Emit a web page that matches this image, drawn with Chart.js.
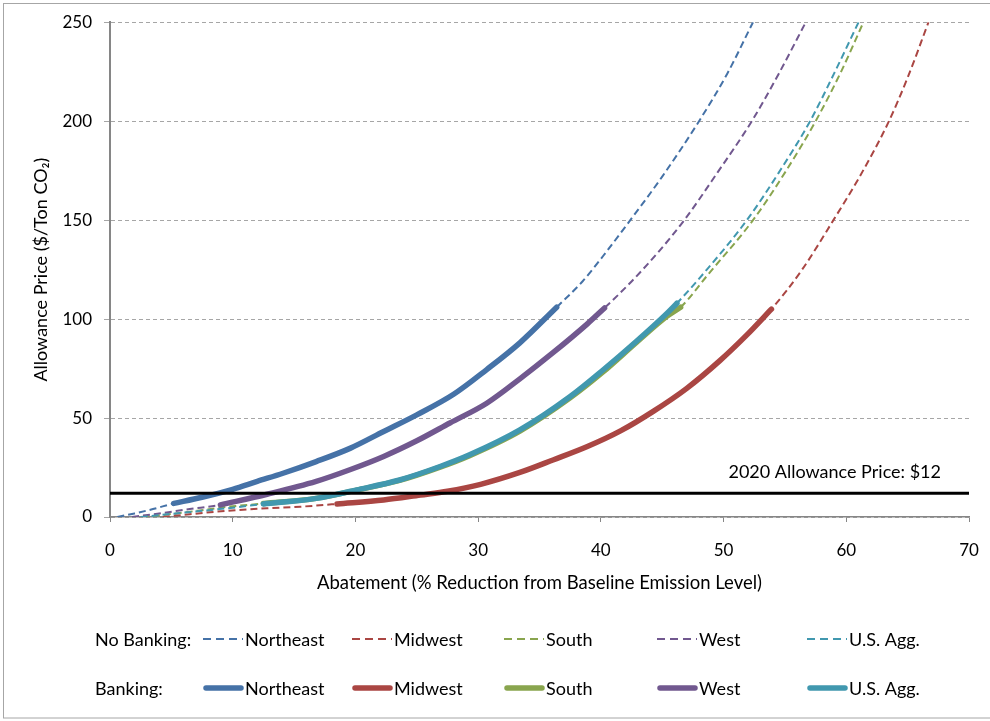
<!DOCTYPE html>
<html><head><meta charset="utf-8">
<script src="https://cdn.jsdelivr.net/npm/chart.js@4/dist/chart.umd.min.js"></script>
<style>html,body{margin:0;padding:0;background:#fff;}#wrap{position:relative;width:990px;height:721px;}</style>
</head><body><div id="wrap"><canvas id="c" width="990" height="721"></canvas></div>
<script>
// ---- data ----
const regions = ['Northeast', 'Midwest', 'South', 'West', 'U.S. Agg.'];
const regionColors = ['#4572A7', '#AA4643', '#89A54E', '#71588F', '#4198AF'];
const rowLabels = ['No Banking:', 'Banking:'];
const xTitle = 'Abatement (% Reduction from Baseline Emission Level)';
const yTitle = 'Allowance Price ($/Ton CO\u2082)';
const allowancePrice = 12;
const allowanceLabel = '2020 Allowance Price: $12';

const neX = [0.6, 2.0, 3.5, 5.2, 7.5, 10.0, 12.0, 14.1, 16.8, 19.6, 22.3, 25.0, 28.0, 30.7, 33.4, 36.4, 38.5, 40.2, 42.4, 45.0, 48.0, 50.3, 52.4];
const neY = [0, 1.8, 4.0, 6.9, 10.0, 14.0, 18.0, 22.1, 28.0, 34.8, 43.2, 51.6, 62.0, 74.5, 88.0, 106.0, 119, 132, 150, 172, 200, 224, 250];

const mwX = [4.3, 6.5, 8.7, 12.8, 15.5, 18.5, 22.3, 25.3, 27.5, 30.2, 33.4, 36.1, 38.9, 41.6, 44.3, 47.0, 49.7, 51.9, 53.9, 56.4, 58.95, 61.0, 63.4, 65.0, 66.7];
const mwY = [0, 1.4, 2.7, 4.4, 5.2, 6.6, 8.6, 11.1, 13.0, 16.5, 22.5, 28.8, 35.6, 43.5, 53.5, 65.0, 79.0, 92.0, 105.0, 125, 150, 171, 199, 222, 250];

const soX = [2.6, 4.3, 7.3, 9.2, 12.5, 16.8, 20.1, 23.6, 26.9, 29.3, 33.4, 37.5, 40.2, 42.9, 45.4, 46.5, 48.8, 52.4, 55.0, 57.5, 59.5, 61.4];
const soY = [0, 1.0, 3.3, 4.9, 6.8, 9.4, 13.6, 18.5, 25.2, 31.0, 43.4, 60.2, 73.4, 88.2, 101.5, 106.0, 123, 150, 174, 200, 224, 250];

const weX = [1.8, 4.0, 6.5, 9.0, 12.8, 16.8, 19.6, 22.3, 25.0, 27.7, 30.7, 33.4, 36.1, 38.9, 40.3, 42.5, 44.7, 46.8, 49.5, 52.3, 54.5, 56.7];
const weY = [0, 1.8, 4.0, 6.1, 11.5, 18.0, 24.0, 30.6, 38.5, 47.5, 57.5, 69.8, 83.0, 97.6, 105.6, 119, 134, 150, 174, 200, 224, 250];

const usX = [2.5, 4.1, 7.3, 10.3, 12.5, 16.8, 20.1, 23.6, 26.9, 29.3, 33.4, 37.5, 40.2, 42.9, 45.4, 46.2, 48.5, 51.9, 54.5, 57.05, 59.0, 61.0];
const usY = [0, 1.0, 3.0, 4.9, 6.6, 9.4, 13.7, 18.7, 25.5, 31.4, 44.0, 60.9, 74.4, 88.8, 103.0, 108.0, 124, 150, 174, 200, 224, 250];

const bankStart = [5.2, 18.5, 12.5, 9.0, 12.5];
const bankEnd = [36.4, 53.9, 46.5, 40.3, 46.2];

// ---- build ----
const curvesX = [neX, mwX, soX, weX, usX];
const curvesY = [neY, mwY, soY, weY, usY];
const pts = (xs, ys) => xs.map((x, i) => ({x: x, y: ys[i]}));
const dashOrder = [5, 5, 6, 5, 4];
const solidOrder = [2, 2, 3, 2, 1];
const datasets = [];
datasets.push({label: 'allowance', data: [{x: 0, y: allowancePrice}, {x: 70, y: allowancePrice}], borderColor: '#000', borderWidth: 3, order: 0, cubicInterpolationMode: 'default', tension: 0});
regions.forEach((r, i) => {
  const all = pts(curvesX[i], curvesY[i]);
  datasets.push({label: 'No Banking ' + r, data: all, borderColor: regionColors[i], borderWidth: 2, borderDash: [7, 4], order: dashOrder[i]});
  datasets.push({label: 'Banking ' + r, data: all.filter(p => p.x >= bankStart[i] && p.x <= bankEnd[i]), borderColor: regionColors[i], borderWidth: 5.5, borderCapStyle: 'round', borderJoinStyle: 'round', order: solidOrder[i]});
});

const decor = {
  id: 'decor',
  beforeDraw(chart) {
    const ctx = chart.ctx;
    ctx.save();
    ctx.strokeStyle = '#a6a6a6'; ctx.lineWidth = 1;
    ctx.strokeRect(3.5, 3.5, 990, 714.5);
    ctx.restore();
  },
  afterDraw(chart) {
    const ctx = chart.ctx;
    const ys = chart.scales.y, ca = chart.chartArea;
    ctx.save();
    ctx.fillStyle = '#000';
    ctx.font = '18px Lato';
    ctx.textAlign = 'right'; ctx.textBaseline = 'alphabetic';
    ctx.fillText(allowanceLabel, ca.right - 28, ys.getPixelForValue(allowancePrice) - 15);
    // legend
    const rowY = [639, 688];
    const sampleX = [203, 352, 504, 657, 807];
    rowLabels.forEach((lab, r) => {
      ctx.textAlign = 'left'; ctx.textBaseline = 'alphabetic';
      ctx.fillStyle = '#000';
      ctx.fillText(lab, 95, rowY[r] + 7);
      regions.forEach((name, i) => {
        ctx.beginPath();
        ctx.strokeStyle = regionColors[i];
        if (r === 0) { ctx.lineWidth = 2; ctx.setLineDash([8, 5]); ctx.lineCap = 'butt'; ctx.moveTo(sampleX[i], rowY[r]); ctx.lineTo(sampleX[i] + 40, rowY[r]); }
        else { ctx.lineWidth = 5.5; ctx.setLineDash([]); ctx.lineCap = 'round'; ctx.moveTo(sampleX[i] + 3, rowY[r]); ctx.lineTo(sampleX[i] + 38, rowY[r]); }
        ctx.stroke();
        ctx.setLineDash([]);
        ctx.fillStyle = '#000';
        ctx.fillText(name, sampleX[i] + 42, rowY[r] + 7);
      });
    });
    ctx.restore();
  }
};

Chart.defaults.font.family = 'Lato';
Chart.defaults.color = '#000';
new Chart(document.getElementById('c'), {
  type: 'line',
  data: {datasets: datasets},
  options: {
    responsive: false, animation: false, devicePixelRatio: 1,
    layout: {autoPadding: false, padding: {left: 24, right: 21, top: 22, bottom: 114}},
    plugins: {legend: {display: false}, tooltip: {enabled: false}},
    elements: {point: {radius: 0}, line: {cubicInterpolationMode: 'monotone', fill: false}},
    scales: {
      x: {
        type: 'linear', min: 0, max: 70,
        afterFit(s) { s.height = 90; s.paddingLeft = 10; s.paddingRight = 10; },
        ticks: {stepSize: 10, padding: 18, color: '#000', font: {size: 17}},
        grid: {drawOnChartArea: false, drawTicks: true, tickLength: 5, color: '#868686', lineWidth: 1},
        border: {color: '#868686', width: 1.5},
        title: {display: true, text: xTitle, color: '#000', font: {size: 18.5}, padding: {top: 0, bottom: 13}}
      },
      y: {
        min: 0, max: 250,
        afterFit(s) { s.width = 86; },
        ticks: {stepSize: 50, padding: 12, color: '#000', font: {size: 17}},
        grid: {color: '#a6a6a6', lineWidth: 1, tickLength: 6},
        border: {color: '#868686', width: 2, dash: [4, 3]},
        title: {display: true, text: yTitle, color: '#000', font: {size: 18}, padding: {top: 6, bottom: 0}}
      }
    }
  },
  plugins: [decor]
});
</script></body></html>
